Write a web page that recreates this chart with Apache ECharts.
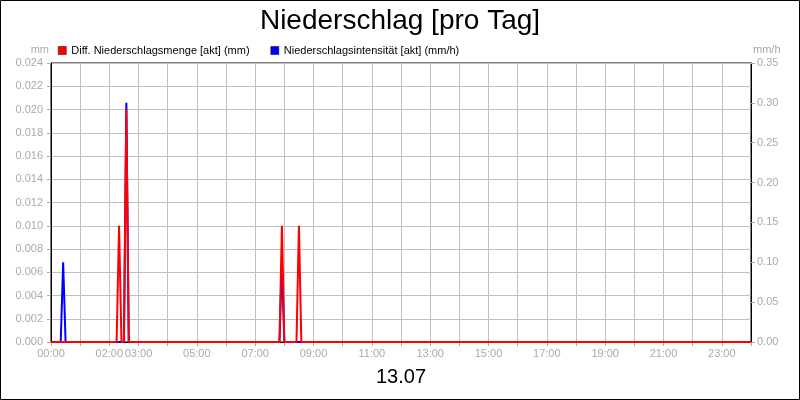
<!DOCTYPE html>
<html>
<head>
<meta charset="utf-8">
<script src="https://cdn.jsdelivr.net/npm/echarts@6/dist/echarts.min.js"></script>
<style>
  html, body { margin: 0; padding: 0; background: #fff; }
  #chart { width: 800px; height: 400px; }
</style>
</head>
<body>
<div id="chart"></div>
<script>
// Zeiten in Minuten seit 00:00 (13.07)
const rainTimes = [0, 135, 140, 145, 150, 155, 160, 470, 475, 480, 505, 510, 515, 1440];
const rainValues = [0, 0, 0.010, 0, 0, 0.020, 0, 0, 0.010, 0, 0, 0.010, 0, 0];

const intensityTimes = [0, 20, 25, 30, 150, 155, 160, 470, 475, 480, 1440];
const intensityValues = [0, 0, 0.10, 0, 0, 0.30, 0, 0, 0.10, 0, 0];

const xTickLabels = ['00:00', '02:00', '03:00', '05:00', '07:00', '09:00', '11:00',
    '13:00', '15:00', '17:00', '19:00', '21:00', '23:00'];

const FONT = 'Liberation Sans, Arial, sans-serif';
const GRID_COLOR = '#c0c0c0';
const LABEL_COLOR = '#aaaaaa';

function toClock(min) {
    const h = Math.floor(min / 60);
    const m = Math.round(min % 60);
    return String(h).padStart(2, '0') + ':' + String(m).padStart(2, '0');
}

function pairs(times, values) {
    return times.map((t, i) => [t, values[i]]);
}

const chart = echarts.init(document.getElementById('chart'));

const option = {
    animation: false,
    backgroundColor: '#fff',
    textStyle: { fontFamily: FONT },
    title: {
        text: 'Niederschlag [pro Tag]',
        left: 'center',
        top: 2,
        textStyle: { fontFamily: FONT, fontSize: 28, fontWeight: 'normal', color: '#000' }
    },
    legend: {
        left: 53,
        top: 40,
        itemWidth: 8,
        itemHeight: 8,
        itemGap: 21,
        icon: 'rect',
        textStyle: { fontFamily: FONT, fontSize: 11, color: '#000' },
        data: [
            { name: 'Diff. Niederschlagsmenge [akt] (mm)', itemStyle: { color: '#ff0000', borderColor: '#000', borderWidth: 0.5 } },
            { name: 'Niederschlagsintensität [akt] (mm/h)', itemStyle: { color: '#0000ff', borderColor: '#000', borderWidth: 0.5 } }
        ]
    },
    grid: {
        left: 51,
        right: 49,
        top: 63,
        bottom: 58,
        show: true,
        borderColor: '#000',
        borderWidth: 1
    },
    xAxis: {
        type: 'value',
        min: 0,
        max: 1440,
        interval: 60,
        name: '13.07',
        nameLocation: 'middle',
        nameGap: 25,
        nameTextStyle: { fontFamily: FONT, fontSize: 20, color: '#000' },
        axisLine: { lineStyle: { color: '#000', width: 1 } },
        axisTick: { show: true, length: 4, lineStyle: { color: LABEL_COLOR } },
        axisLabel: {
            margin: 6,
            fontSize: 11,
            color: LABEL_COLOR,
            fontFamily: FONT,
            formatter: v => {
                const s = toClock(v);
                return xTickLabels.includes(s) ? s : '';
            }
        },
        splitLine: { show: true, lineStyle: { color: GRID_COLOR, width: 1 } }
    },
    yAxis: [
        {
            type: 'value',
            min: 0,
            max: 0.024,
            interval: 0.002,
            name: 'mm',
            nameLocation: 'end',
            nameGap: 13,
            nameTextStyle: { fontFamily: FONT, fontSize: 11, color: LABEL_COLOR, align: 'right', verticalAlign: 'middle', padding: [0, 2, 0, 0] },
            axisLine: { show: true, lineStyle: { color: '#000' } },
            axisTick: { show: true, length: 4, lineStyle: { color: LABEL_COLOR } },
            axisLabel: {
                margin: 8,
                fontSize: 11,
                color: LABEL_COLOR,
                fontFamily: FONT,
                formatter: v => v.toFixed(3)
            },
            splitLine: { show: true, lineStyle: { color: GRID_COLOR, width: 1 } }
        },
        {
            type: 'value',
            min: 0,
            max: 0.35,
            interval: 0.05,
            name: 'mm/h',
            nameLocation: 'end',
            nameGap: 13,
            nameTextStyle: { fontFamily: FONT, fontSize: 11, color: LABEL_COLOR, align: 'left', verticalAlign: 'middle', padding: [0, 0, 0, 2] },
            axisLine: { show: true, lineStyle: { color: '#000' } },
            axisTick: { show: true, length: 4, lineStyle: { color: LABEL_COLOR } },
            axisLabel: {
                margin: 6,
                fontSize: 11,
                color: LABEL_COLOR,
                fontFamily: FONT,
                formatter: v => v.toFixed(2)
            },
            splitLine: { show: false }
        }
    ],
    series: [
        {
            name: 'Niederschlagsintensität [akt] (mm/h)',
            type: 'line',
            yAxisIndex: 1,
            showSymbol: false,
            lineStyle: { color: '#0000ff', width: 2 },
            itemStyle: { color: '#0000ff' },
            data: pairs(intensityTimes, intensityValues)
        },
        {
            name: 'Diff. Niederschlagsmenge [akt] (mm)',
            type: 'line',
            yAxisIndex: 0,
            showSymbol: false,
            lineStyle: { color: '#ff0000', width: 2 },
            itemStyle: { color: '#ff0000' },
            data: pairs(rainTimes, rainValues)
        }
    ],
    graphic: [
        {
            type: 'rect',
            shape: { x: 0.5, y: 0.5, width: 799, height: 399 },
            style: { fill: 'none', stroke: '#000', lineWidth: 1 },
            silent: true
        }
    ]
};

chart.setOption(option);
</script>
</body>
</html>
